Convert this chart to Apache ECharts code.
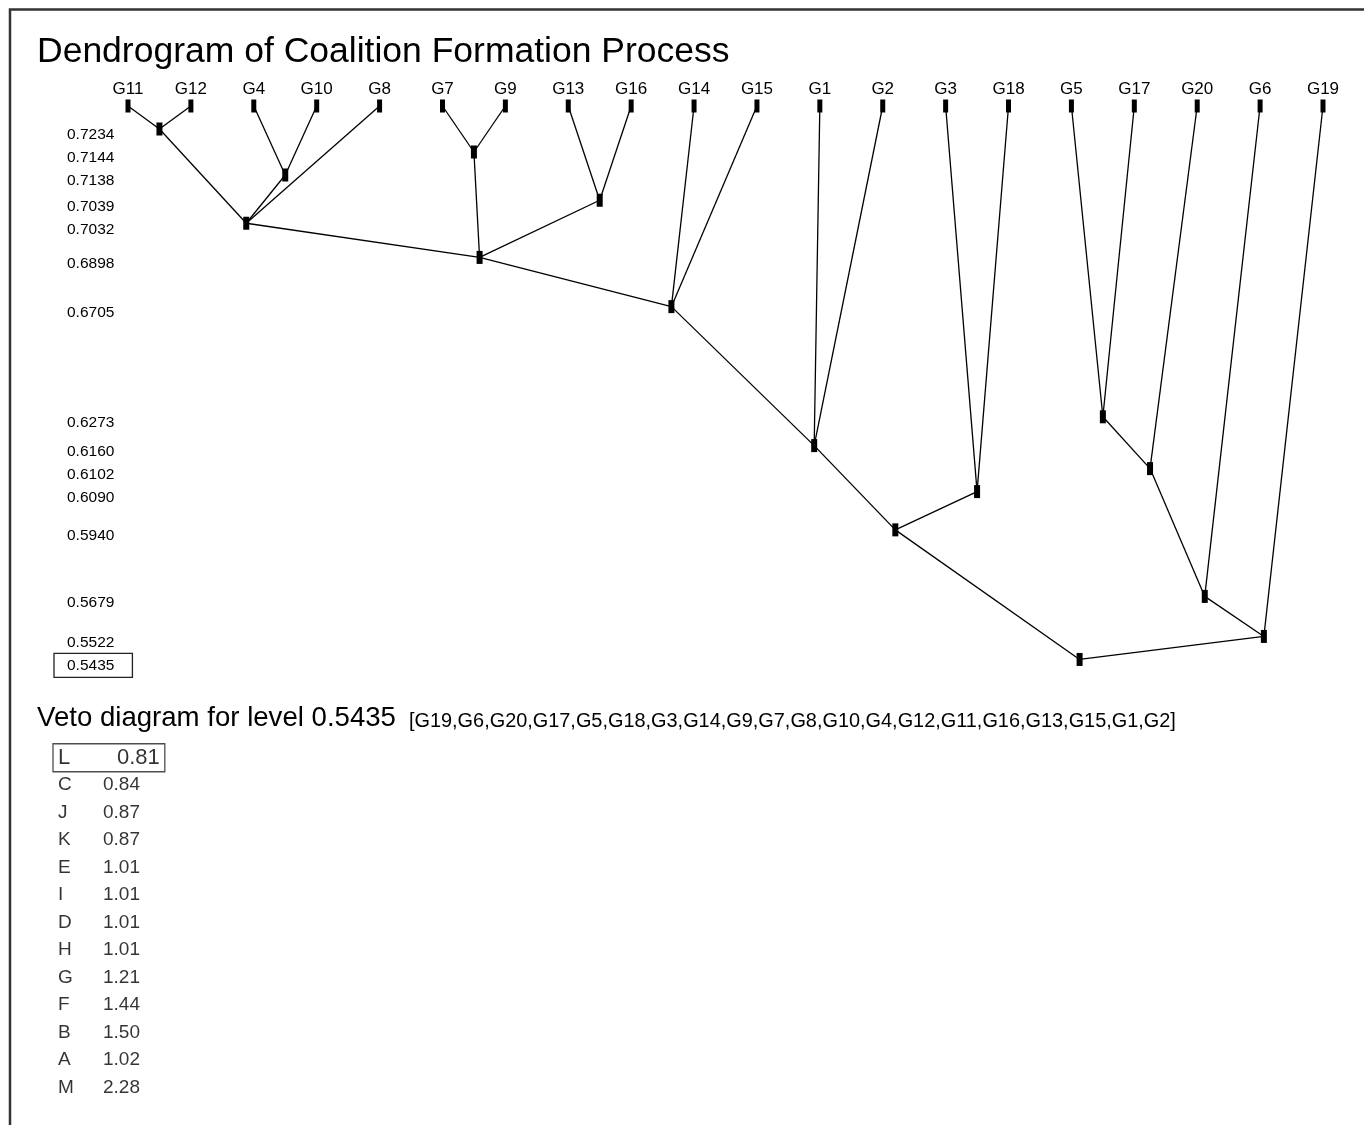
<!DOCTYPE html>
<html>
<head>
<meta charset="utf-8">
<title>Dendrogram of Coalition Formation Process</title>
<script src="https://cdn.jsdelivr.net/npm/echarts@6/dist/echarts.min.js"></script>
<style>
  html, body { margin: 0; padding: 0; background: #fff; }
  #chart { width: 1364px; height: 1125px; }
</style>
</head>
<body>
<div id="chart"></div>
<script>
// Leaves of the dendrogram, left to right
const leaves = ['G11', 'G12', 'G4', 'G10', 'G8', 'G7', 'G9', 'G13', 'G16', 'G14',
                'G15', 'G1', 'G2', 'G3', 'G18', 'G5', 'G17', 'G20', 'G6', 'G19'];

// Coalition merges, in order of decreasing level (N1 = first merge, N2 = second ...)
const mergeLevels = [0.7234, 0.7144, 0.7138, 0.7039, 0.7032, 0.6898, 0.6705,
                     0.6273, 0.6160, 0.6102, 0.6090, 0.5940, 0.5679, 0.5522, 0.5435];
// horizontal position of each merge node, in leaf-index units
const mergeX = [0.5, 5.5, 2.5, 7.5, 1.88, 5.59, 8.64,
                15.5, 10.91, 16.25, 13.5, 12.2, 17.12, 18.06, 15.13];
const mergeChildren = [
  ['G11', 'G12'], ['G7', 'G9'], ['G4', 'G10'], ['G13', 'G16'],
  ['N1', 'N3', 'G8'], ['N5', 'N2', 'N4'], ['N6', 'G14', 'G15'],
  ['G5', 'G17'], ['N7', 'G1', 'G2'], ['N8', 'G20'], ['G3', 'G18'],
  ['N9', 'N11'], ['N10', 'G6'], ['N13', 'G19'], ['N12', 'N14']
];

// Veto diagram at the lowest level
const vetoLetters = ['L', 'C', 'J', 'K', 'E', 'I', 'D', 'H', 'G', 'F', 'B', 'A', 'M'];
const vetoValues = [0.81, 0.84, 0.87, 0.87, 1.01, 1.01, 1.01, 1.01, 1.21, 1.44, 1.50, 1.02, 2.28];
const vetoOrder = ['G19', 'G6', 'G20', 'G17', 'G5', 'G18', 'G3', 'G14', 'G9', 'G7',
                   'G8', 'G10', 'G4', 'G12', 'G11', 'G16', 'G13', 'G15', 'G1', 'G2'];

// Vertical layout: levels are spread in proportion to their gaps,
// but never closer than a minimum step so the level labels stay readable.
// One layout unit is one pixel of the plot.
const MIN_STEP = 23;
const STEP_PER_UNIT = 2550;
const levelPos = [];
mergeLevels.reduce((pos, lv, i) => {
  const step = i === 0 ? MIN_STEP : Math.max(MIN_STEP, (mergeLevels[i - 1] - lv) * STEP_PER_UNIT);
  levelPos.push(pos + step);
  return pos + step;
}, 0);
const lastPos = levelPos[levelPos.length - 1];
const lastLevel = mergeLevels[mergeLevels.length - 1];
const AXIS_END = lastPos + 20;   // a little room below the lowest level
const LABEL_DROP = 6;            // level labels sit just below their node

function nodePoint(id) {
  if (id[0] === 'N') {
    const k = Number(id.slice(1)) - 1;
    return [mergeX[k], levelPos[k]];
  }
  return [leaves.indexOf(id), 0];
}

const edges = [];
mergeChildren.forEach((kids, i) => {
  kids.forEach(c => edges.push({ coords: [nodePoint(c), [mergeX[i], levelPos[i]]] }));
});

function levelLabel(v) {
  const p = v - LABEL_DROP;
  let best = 0;
  levelPos.forEach((q, i) => { if (Math.abs(q - p) < Math.abs(levelPos[best] - p)) best = i; });
  const txt = mergeLevels[best].toFixed(4);
  return best === mergeLevels.length - 1 ? '{box|' + txt + '}' : '{n|' + txt + '}';
}

const FONT = '"Liberation Sans", Arial, Helvetica, sans-serif';
const GRID_TOP = 106;

const chart = echarts.init(document.getElementById('chart'), null, { renderer: 'canvas' });
chart.setOption({
  animation: false,
  backgroundColor: '#ffffff',
  textStyle: { fontFamily: FONT, color: '#000' },
  title: [
    {
      text: 'Dendrogram of Coalition Formation Process',
      left: 37, top: 32, padding: 0,
      textStyle: { fontFamily: FONT, fontSize: 35.5, fontWeight: 'normal', color: '#000', lineHeight: 40 }
    },
    {
      text: '{a|Veto diagram for level ' + lastLevel.toFixed(4) + '}{b|[' + vetoOrder.join(',') + ']}',
      left: 37, top: 700, padding: 0,
      textStyle: {
        fontFamily: FONT, fontWeight: 'normal',
        rich: {
          a: { fontFamily: FONT, fontSize: 27.6, fontWeight: 'normal', color: '#000', lineHeight: 32, verticalAlign: 'bottom' },
          b: { fontFamily: FONT, fontSize: 19.9, fontWeight: 'normal', color: '#000', lineHeight: 32, verticalAlign: 'bottom', padding: [0, 0, 0, 13] }
        }
      }
    }
  ],
  graphic: [{
    type: 'polyline',
    shape: { points: [[10, 1125], [10, 9.5], [1364, 9.5]] },
    style: { stroke: '#333', lineWidth: 2.5, fill: null },
    silent: true
  }],
  grid: [
    { left: 128, right: 41, top: GRID_TOP, height: AXIS_END, outerBoundsMode: 'none', containLabel: false },
    { left: 53, top: 744, width: 250, height: 357.5, outerBoundsMode: 'none', containLabel: false }
  ],
  xAxis: [
    {
      gridIndex: 0, type: 'value', position: 'top', min: 0, max: leaves.length - 1,
      axisLine: { show: false }, axisTick: { show: false }, splitLine: { show: false },
      axisLabel: {
        customValues: leaves.map((_, i) => i),
        formatter: v => leaves[Math.round(v)],
        showMinLabel: true, showMaxLabel: true,
        fontFamily: FONT, fontSize: 17, color: '#000', margin: 8
      }
    },
    { gridIndex: 1, type: 'value', min: 0, max: 1, show: false }
  ],
  yAxis: [
    {
      gridIndex: 0, type: 'value', inverse: true, min: 0, max: AXIS_END,
      axisLine: { show: false }, axisTick: { show: false }, splitLine: { show: false },
      axisLabel: {
        customValues: levelPos.map(p => p + LABEL_DROP),
        formatter: levelLabel,
        showMinLabel: true, showMaxLabel: true, hideOverlap: false,
        align: 'left', verticalAlign: 'middle', margin: 74,
        rich: {
          n: { fontFamily: FONT, fontSize: 15.5, color: '#000', lineHeight: 16, padding: [0, 18, 0, 13] },
          box: { fontFamily: FONT, fontSize: 15.5, color: '#000', lineHeight: 16, padding: [4, 18, 4, 13],
                 borderColor: '#222', borderWidth: 1.3 }
        }
      }
    },
    { gridIndex: 1, type: 'category', data: vetoLetters, inverse: true, show: false }
  ],
  series: [
    {
      type: 'lines', coordinateSystem: 'cartesian2d', xAxisIndex: 0, yAxisIndex: 0,
      polyline: false, silent: true, z: 1, clip: false,
      lineStyle: { color: '#000', width: 1.3, opacity: 1, curveness: 0 },
      data: edges
    },
    {
      type: 'scatter', xAxisIndex: 0, yAxisIndex: 0, symbol: 'rect', symbolSize: [5, 13],
      itemStyle: { color: '#000', opacity: 1 }, z: 3, clip: false, silent: true,
      data: leaves.map((_, i) => [i, 0])
    },
    {
      type: 'scatter', xAxisIndex: 0, yAxisIndex: 0, symbol: 'rect', symbolSize: [6, 13],
      itemStyle: { color: '#000', opacity: 1 }, z: 3, clip: false, silent: true,
      data: mergeX.map((x, i) => [x, levelPos[i]])
    },
    {
      type: 'scatter', xAxisIndex: 1, yAxisIndex: 1, symbolSize: 0, silent: true, clip: false,
      data: vetoLetters.map((l, i) => ({
        value: [0, i],
        label: i === 0
          ? {
              padding: [3, 5, 3, 5], borderColor: '#222', borderWidth: 1.3,
              rich: {
                k: { fontFamily: FONT, fontSize: 22, color: '#000', width: 59 },
                v: { fontFamily: FONT, fontSize: 22, color: '#000' }
              }
            }
          : {
              padding: [0, 0, 0, 5],
              rich: {
                k: { fontFamily: FONT, fontSize: 19, color: '#000', width: 45 },
                v: { fontFamily: FONT, fontSize: 19, color: '#000' }
              }
            }
      })),
      label: {
        show: true, position: 'right', distance: 0, color: '#000',
        formatter: p => '{k|' + vetoLetters[p.dataIndex] + '}{v|' + vetoValues[p.dataIndex].toFixed(2) + '}'
      }
    }
  ]
});
</script>
</body>
</html>
